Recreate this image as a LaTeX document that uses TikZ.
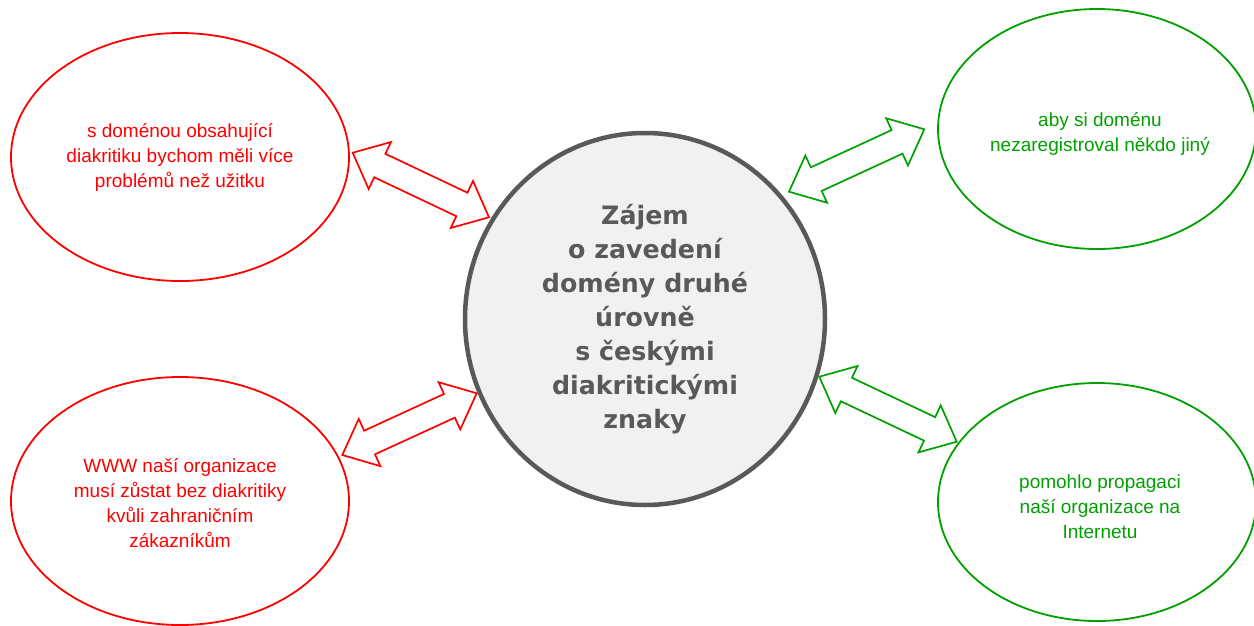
\documentclass[tikz,border=0pt]{standalone}
\usepackage{fontspec}
\setmainfont{Liberation Sans}
\newfontfamily\verd{DejaVu Sans}
\usetikzlibrary{shapes.geometric,calc,backgrounds}
\definecolor{cred}{HTML}{FF0000}
\definecolor{cgreen}{HTML}{00A000}
\definecolor{cgray}{HTML}{595959}
\definecolor{cfill}{HTML}{F1F1F1}
\newcommand\dblarr[3]{%
\draw[#3, line width=1.7pt, line join=miter, fill=white]
 (#1)
 -- ($(#1)!30pt!(#2)!26pt!90:(#2)$)
 -- ($(#1)!30pt!(#2)!13pt!90:(#2)$)
 -- ($(#2)!30pt!(#1)!13pt!-90:(#1)$)
 -- ($(#2)!30pt!(#1)!26pt!-90:(#1)$)
 -- (#2)
 -- ($(#2)!30pt!(#1)!26pt!90:(#1)$)
 -- ($(#2)!30pt!(#1)!13pt!90:(#1)$)
 -- ($(#1)!30pt!(#2)!13pt!-90:(#2)$)
 -- ($(#1)!30pt!(#2)!26pt!-90:(#2)$)
 -- cycle;}
\tikzset{
  side/.style={ellipse, draw, line width=1.8pt, inner sep=0pt, align=center,
    font=\fontsize{19}{25}\selectfont},
  redside/.style={side, draw=cred, text=cred},
  greenside/.style={side, draw=cgreen, text=cgreen},
  core/.style={ellipse, draw=cgray, fill=cfill, line width=4.5pt, inner sep=0pt,
    align=center, text=cgray, font=\verd\bfseries\fontsize{25.3}{34}\selectfont}
}
\begin{document}
\begin{tikzpicture}[x=1pt,y=-1pt]
\clip (0,0) rectangle (1254,625);
\node[core, minimum width=360pt, minimum height=372pt] (c) at (645,319)
  {Zájem\\o zavedení\\domény druhé\\úrovně\\s českými\\diakritickými\\znaky};
\node[redside, minimum width=338pt, minimum height=248pt] (tl) at (180,157)
  {s doménou obsahující\\diakritiku bychom měli více\\problémů než užitku};
\node[redside, minimum width=338pt, minimum height=248pt] (bl) at (180,501) {};
\node[text=cred, align=center, font=\fontsize{19}{25}\selectfont] (blt) at (180,503)
  {WWW naší organizace\\musí zůstat bez diakritiky\\kvůli zahraničním\\zákazníkům};
\node[greenside, minimum width=318pt, minimum height=240pt] (tr) at (1097,129) {};
\node[text=cgreen, align=center, font=\fontsize{19}{25}\selectfont] (trt) at (1100,134)
  {aby si doménu\\nezaregistroval někdo jiný};
\node[greenside, minimum width=318pt, minimum height=238pt] (br) at (1097,502) {};
\node[text=cgreen, align=center, font=\fontsize{19}{25}\selectfont] (brt) at (1100,507)
  {pomohlo propagaci\\naší organizace na\\Internetu};
\coordinate (a1s) at (352.7,152.7);
\coordinate (a1e) at (489,217.3);
\coordinate (a2s) at (342.3,455);
\coordinate (a2e) at (476.7,393.3);
\coordinate (a3s) at (789,191.7);
\coordinate (a3e) at (924.3,129.3);
\coordinate (a4s) at (819.3,376.7);
\coordinate (a4e) at (956.7,441.7);
\begin{pgfonlayer}{background}
\fill[white] (0,0) rectangle (1254,625);
\dblarr{a1s}{a1e}{cred}
\dblarr{a2s}{a2e}{cred}
\dblarr{a3s}{a3e}{cgreen}
\dblarr{a4s}{a4e}{cgreen}
\end{pgfonlayer}
\end{tikzpicture}
\end{document}
